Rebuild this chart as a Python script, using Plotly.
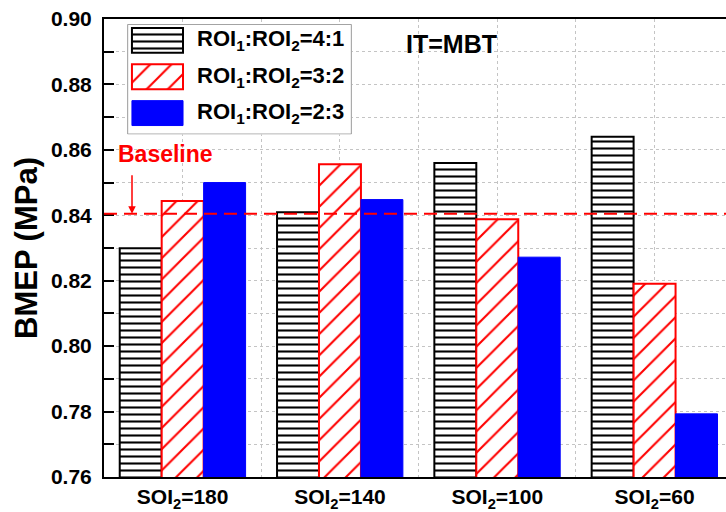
import plotly.graph_objects as go

# --- data -------------------------------------------------------------
categories = ["SOI<sub>2</sub>=180", "SOI<sub>2</sub>=140", "SOI<sub>2</sub>=100", "SOI<sub>2</sub>=60"]
series_names = ["ROI<sub>1</sub>:ROI<sub>2</sub>=4:1",
                "ROI<sub>1</sub>:ROI<sub>2</sub>=3:2",
                "ROI<sub>1</sub>:ROI<sub>2</sub>=2:3"]
bmep_4_1 = [0.8299, 0.8409, 0.8560, 0.8640]
bmep_3_2 = [0.8444, 0.8556, 0.8388, 0.8191]
bmep_2_3 = [0.8500, 0.8448, 0.8272, 0.7793]
baseline = 0.8405
y_ticks = [0.76, 0.78, 0.80, 0.82, 0.84, 0.86, 0.88, 0.90]

FONT = "Liberation Sans, Arial, sans-serif"
GRID = "#c4c4c4"
BLUE = "rgb(0,0,255)"

x_pos = list(range(len(categories)))


def bar_marker(fill, shape, fg, size, sol, lc, lw):
    return dict(color=fill,
                line=dict(color=lc, width=lw),
                pattern=dict(shape=shape, fgcolor=fg, bgcolor=fill,
                             size=size, solidity=sol, fillmode="replace"))


# per-series styling
styles = [
    dict(fill="white", shape="-", fg="black", size=7, sol=0.3, lc="black", lw=2),
    dict(fill="white", shape="/", fg="red", size=15, sol=0.14, lc="red", lw=2),
    dict(fill=BLUE, shape="", fg=BLUE, size=8, sol=0.3, lc=BLUE, lw=1),
]

fig = go.Figure()
for vals, st in zip([bmep_4_1, bmep_3_2, bmep_2_3], styles):
    fig.add_trace(go.Bar(
        x=x_pos, y=vals, marker=bar_marker(**st),
        showlegend=False, hoverinfo="skip",
    ))

# --- legend drawn in a small inset axis --------------------------------
fig.add_shape(type="rect", xref="x2", yref="y2", x0=0.003, x1=0.997,
              y0=-0.44, y1=2.577, layer="below",
              line=dict(color="#9a9a9a", width=1), fillcolor="white")

for row, (name, st) in enumerate(zip(series_names, styles)):
    fig.add_trace(go.Bar(
        y=[row], x=[0.227], base=[0.022], orientation="h",
        width=0.685, offset=-0.3425,
        xaxis="x2", yaxis="y2", marker=bar_marker(**st),
        showlegend=False, hoverinfo="skip",
    ))
    fig.add_annotation(x=0.302, y=row, xref="x2", yref="y2", text=name,
                       showarrow=False, xanchor="left", yanchor="middle",
                       font=dict(family=FONT, size=22, color="black", weight="bold"))

# --- baseline marker ------------------------------------------------------
fig.add_hline(y=baseline, line=dict(color="red", width=2, dash="13px,7px"))
fig.add_annotation(x=-0.112, y=0.8586, text="Baseline", showarrow=False,
                   font=dict(family=FONT, size=23, color="red", weight="bold"))
fig.add_annotation(x=-0.322, y=baseline, ax=-0.322, ay=0.8548,
                   axref="x", ayref="y", text=" ", showarrow=True,
                   arrowcolor="red", arrowwidth=1.5,
                   arrowhead=2, arrowsize=1, standoff=0)

fig.add_annotation(x=1.71, y=0.8924, text="IT=MBT", showarrow=False,
                   font=dict(family=FONT, size=25, color="black", weight="bold"))

# --- layout -------------------------------------------------------------
grid_style = dict(showgrid=True, gridcolor=GRID, griddash="3px,3px", gridwidth=1)

fig.update_layout(
    width=726, height=512,
    margin=dict(l=104, r=0, t=19, b=33),
    paper_bgcolor="white", plot_bgcolor="white",
    barmode="group", bargap=0.2, bargroupgap=0,
    showlegend=False,
    font=dict(family=FONT, color="black"),
    xaxis=dict(
        range=[-0.5, 3.454],
        tickmode="array", tickvals=x_pos, ticktext=categories,
        ticks="", tickfont=dict(family=FONT, size=21, weight="bold"),
        showline=True, linecolor="black", linewidth=2, mirror=True,
        minor=dict(tickmode="linear", tick0=0.5, dtick=1, ticks="", **grid_style),
        zeroline=False, **grid_style,
    ),
    yaxis=dict(
        range=[0.76, 0.90],
        tickmode="array", tickvals=y_ticks, tickformat=".2f",
        ticks="inside", ticklen=10, tickwidth=2, tickcolor="black",
        ticklabelstandoff=6,
        tickfont=dict(family=FONT, size=21, weight="bold"),
        showline=True, linecolor="black", linewidth=2,
        minor=dict(dtick=0.01, tick0=0.76, ticks="inside", ticklen=10, tickwidth=2,
                   tickcolor="black", **grid_style),
        zeroline=False,
        title=dict(text="BMEP (MPa)", standoff=4,
                   font=dict(family=FONT, size=31, weight="bold")),
        **grid_style,
    ),
    xaxis2=dict(domain=[23 / 622, 248 / 622], range=[0, 1], anchor="y2",
                visible=False, showgrid=False, fixedrange=True),
    yaxis2=dict(domain=[344 / 460, 455 / 460], range=[2.589, -0.452], anchor="x2",
                visible=False, showgrid=False, fixedrange=True),
)

fig.write_html("out.html")
